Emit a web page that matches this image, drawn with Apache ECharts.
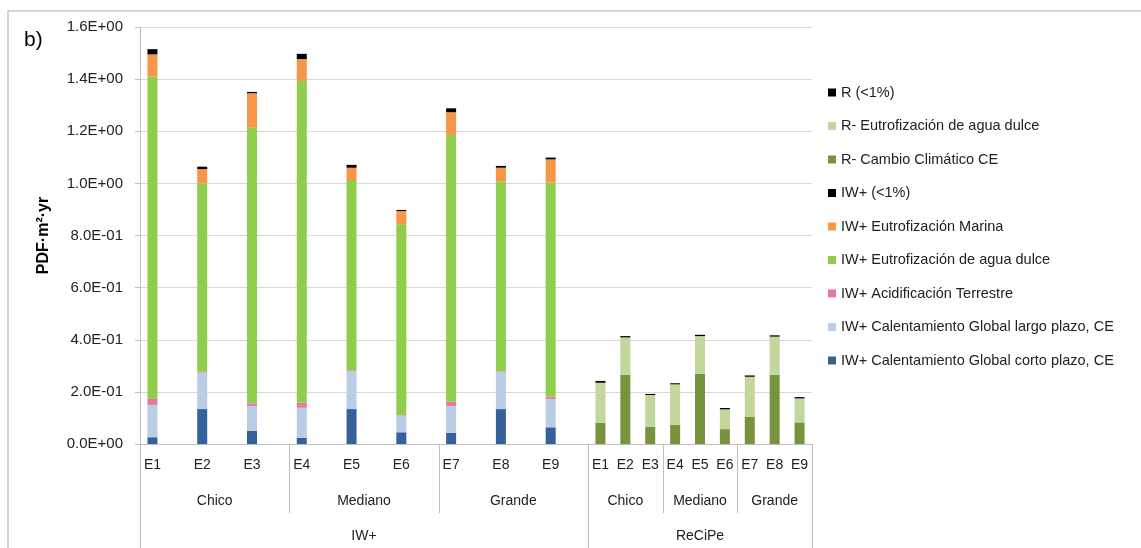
<!DOCTYPE html>
<html>
<head>
<meta charset="utf-8">
<script src="https://cdn.jsdelivr.net/npm/echarts@6/dist/echarts.min.js"></script>
<style>
html,body{margin:0;padding:0;background:#fff;}
#chart{width:1141px;height:548px;}
</style>
</head>
<body>
<div id="chart"></div>
<script>
// ---- Data ----
// Category slots: IW+ bars occupy every other slot (wide spacing), ReCiPe bars consecutive slots
const slotLabels = ['E1','','E2','','E3','','E4','','E5','','E6','','E7','','E8','','E9','',
                    'E1','E2','E3','E4','E5','E6','E7','E8','E9'];
const iwSlots = [0,2,4,6,8,10,12,14,16];
const rSlots = [18,19,20,21,22,23,24,25,26];

const iwCGcorto   = [0.026,0.134,0.051,0.024,0.134,0.045,0.043,0.134,0.064];
const iwCGlargo   = [0.124,0.140,0.095,0.115,0.147,0.064,0.103,0.141,0.109];
const iwAcid      = [0.025,0.003,0.010,0.019,0.003,0.002,0.016,0.003,0.009];
const iwEutroDul  = [1.235,0.723,1.059,1.235,0.729,0.732,1.024,0.729,0.821];
const iwEutroMar  = [0.085,0.055,0.131,0.084,0.047,0.051,0.087,0.053,0.089];
const iwMenor     = [0.020,0.009,0.005,0.020,0.011,0.004,0.015,0.007,0.007];
const rCambio     = [0.082,0.265,0.066,0.074,0.269,0.057,0.105,0.266,0.083];
const rEutroDul   = [0.153,0.144,0.122,0.155,0.145,0.076,0.153,0.146,0.092];
const rMenor      = [0.007,0.005,0.004,0.004,0.005,0.005,0.005,0.005,0.005];

const subGroups = [
  {name:'Chico', start:0, end:6}, {name:'Mediano', start:6, end:12}, {name:'Grande', start:12, end:18},
  {name:'Chico', start:18, end:21}, {name:'Mediano', start:21, end:24}, {name:'Grande', start:24, end:27}
];
const mainGroups = [{name:'IW+', start:0, end:18}, {name:'ReCiPe', start:18, end:27}];

const yTicks = {min:0, max:1.6, interval:0.2};

// ---- Build ----
function place(values, slots){
  const arr = slotLabels.map(() => null);
  slots.forEach((s,i) => { arr[s] = values[i]; });
  return arr;
}
const seriesDefs = [
  {name:'IW+ Calentamiento Global corto plazo, CE', data: place(iwCGcorto, iwSlots), color:'#34619a'},
  {name:'IW+ Calentamiento Global largo plazo, CE', data: place(iwCGlargo, iwSlots), color:'#b9cde5'},
  {name:'IW+ Acidificación Terrestre', data: place(iwAcid, iwSlots), color:'#e8789e'},
  {name:'IW+ Eutrofización de agua dulce', data: place(iwEutroDul, iwSlots), color:'#8fce4c'},
  {name:'IW+ Eutrofización Marina', data: place(iwEutroMar, iwSlots), color:'#f79646'},
  {name:'IW+ (<1%)', data: place(iwMenor, iwSlots), color:'#000000'},
  {name:'R- Cambio Climático CE', data: place(rCambio, rSlots), color:'#77933c'},
  {name:'R- Eutrofización de agua dulce', data: place(rEutroDul, rSlots), color:'#c3d69b'},
  {name:'R (<1%)', data: place(rMenor, rSlots), color:'#000000'}
];

function fmtE(v){
  if (v === 0) return '0.0E+00';
  let e = Math.floor(Math.log10(Math.abs(v)) + 1e-9);
  let m = v / Math.pow(10, e);
  m = Math.round(m*10)/10;
  if (m >= 10){ m /= 10; e += 1; }
  const sign = e < 0 ? '-' : '+';
  const ae = Math.abs(e);
  return m.toFixed(1) + 'E' + sign + (ae < 10 ? '0' + ae : '' + ae);
}

const FONT = '"Liberation Sans", Arial, sans-serif';
const chart = echarts.init(document.getElementById('chart'), null, {renderer:'canvas'});

const option = {
  animation:false,
  backgroundColor:'#ffffff',
  textStyle:{fontFamily:FONT},
  grid:{left:140, right:329, top:27, bottom:104, containLabel:false},
  legend:{
    orient:'vertical', left:823, top:80, itemWidth:8, itemHeight:8, itemGap:18.5,
    icon:'rect',
    data: seriesDefs.map(s => s.name).reverse(),
    textStyle:{fontSize:14.5, color:'#222', fontFamily:FONT},
    selectedMode:false
  },
  xAxis:{
    type:'category', data:slotLabels,
    axisLine:{lineStyle:{color:'#bfbfbf', width:1}},
    axisTick:{show:false},
    axisLabel:{interval:0, fontSize:14, color:'#222', margin:14, fontFamily:FONT},
    splitLine:{show:false}
  },
  yAxis:{
    type:'value', min:yTicks.min, max:yTicks.max, interval:yTicks.interval,
    name:'PDF·m²·yr', nameLocation:'middle', nameGap:88,
    nameTextStyle:{fontSize:16, fontWeight:'bold', color:'#000', fontFamily:FONT},
    axisLine:{show:true, lineStyle:{color:'#bfbfbf'}},
    axisTick:{show:true, length:5, lineStyle:{color:'#bfbfbf'}},
    axisLabel:{formatter:fmtE, fontSize:15, color:'#222', margin:17, fontFamily:FONT},
    splitLine:{lineStyle:{color:'#d9d9d9', width:1}}
  },
  series: seriesDefs.map(s => ({
    name:s.name, type:'bar', stack:'total', data:s.data, barWidth:10,
    itemStyle:{color:s.color}, emphasis:{disabled:true}
  }))
};
chart.setOption(option);

// Multi-level category labels and separators, positioned via the axis scale
function buildGraphics(){
  const c0 = chart.convertToPixel({xAxisIndex:0}, 0);
  const c1 = chart.convertToPixel({xAxisIndex:0}, 1);
  const bw = c1 - c0;
  const xb = k => c0 + (k - 0.5) * bw; // left boundary of slot k
  const yAxisPx = chart.convertToPixel({yAxisIndex:0}, 0);
  const H = 548;
  const els = [];
  // chart area border
  els.push({type:'rect', shape:{x:8, y:11, width:1200, height:600},
            style:{fill:null, stroke:'#c8c8c8', lineWidth:1.5}, silent:true});
  els.push({type:'text', left:24, top:30, style:{text:'b)', fontSize:21, fill:'#000', fontFamily:FONT}});
  const bounds = {};
  subGroups.forEach(g => { bounds[g.start] = bounds[g.start] || 'sub'; bounds[g.end] = bounds[g.end] || 'sub'; });
  mainGroups.forEach(g => { bounds[g.start] = 'main'; bounds[g.end] = 'main'; });
  Object.keys(bounds).forEach(k => {
    const x = Math.round(xb(+k)) + 0.5;
    const y2 = bounds[k] === 'main' ? H : yAxisPx + 69;
    els.push({type:'line', shape:{x1:x, y1:yAxisPx, x2:x, y2:y2},
              style:{stroke:'#bfbfbf', lineWidth:1}, silent:true});
  });
  subGroups.forEach(g => {
    const cx = (xb(g.start) + xb(g.end)) / 2;
    els.push({type:'text', x:cx, y:yAxisPx + 57, style:{text:g.name, fontSize:14, fill:'#222',
              align:'center', verticalAlign:'middle', fontFamily:FONT}});
  });
  mainGroups.forEach(g => {
    const cx = (xb(g.start) + xb(g.end)) / 2;
    els.push({type:'text', x:cx, y:yAxisPx + 92, style:{text:g.name, fontSize:14, fill:'#222',
              align:'center', verticalAlign:'middle', fontFamily:FONT}});
  });
  chart.setOption({graphic:{elements:els}});
}
buildGraphics();
</script>
</body>
</html>
